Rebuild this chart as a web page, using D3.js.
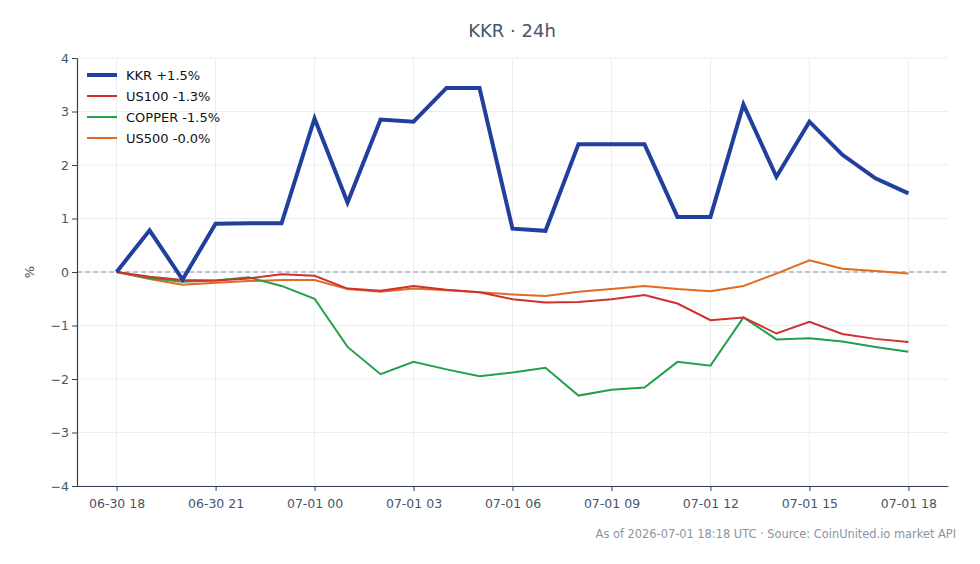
<!DOCTYPE html>
<html>
<head>
<meta charset="utf-8">
<script src="https://cdn.jsdelivr.net/npm/d3@7"></script>
<style>
  body { margin: 0; background: #fff; }
  svg { font-family: "DejaVu Sans", sans-serif; }
</style>
</head>
<body>
<svg width="980" height="564"></svg>
<script>
// hourly points, 06-30 18:00 -> 07-01 18:00
var hours = d3.range(25)
var startTime = new Date(Date.UTC(2026, 5, 30, 18))
var kkr    = [0, 0.78, -0.14, 0.90, 0.91, 0.91, 2.87, 1.30, 2.85, 2.81, 3.44, 3.44, 0.81, 0.77, 2.39, 2.39, 2.39, 1.03, 1.03, 3.13, 1.78, 2.81, 2.19, 1.75, 1.47]
var us100  = [0, -0.09, -0.15, -0.16, -0.12, -0.04, -0.07, -0.31, -0.35, -0.26, -0.33, -0.38, -0.51, -0.57, -0.56, -0.51, -0.43, -0.59, -0.90, -0.85, -1.15, -0.93, -1.16, -1.25, -1.31]
var copper = [0, -0.11, -0.18, -0.16, -0.10, -0.26, -0.50, -1.40, -1.91, -1.68, -1.82, -1.95, -1.88, -1.79, -2.31, -2.20, -2.16, -1.68, -1.75, -0.85, -1.26, -1.24, -1.30, -1.40, -1.49]
var us500  = [0, -0.13, -0.24, -0.20, -0.17, -0.15, -0.15, -0.32, -0.37, -0.31, -0.34, -0.38, -0.42, -0.45, -0.37, -0.32, -0.26, -0.32, -0.36, -0.26, -0.03, 0.22, 0.06, 0.02, -0.03]
var seriesNames = ["KKR +1.5%", "US100 -1.3%", "COPPER -1.5%", "US500 -0.0%"]
var seriesColors = ["#213f9c", "#d03030", "#22a04b", "#e2691f"]
var seriesWidths = [4, 2, 2, 2]
var yTicks = [-4, -3, -2, -1, 0, 1, 2, 3, 4]

var svg = d3.select("svg")
var margin = {left: 77, right: 32, top: 58, bottom: 78}
var W = 980, H = 564

var times = hours.map(h => new Date(startTime.getTime() + h * 3600000))
var pad = 1.2 * 3600000
var x = d3.scaleUtc()
  .domain([times[0].getTime() - pad, times[24].getTime() + pad])
  .range([margin.left, W - margin.right])
var y = d3.scaleLinear().domain([-4, 4]).range([H - margin.bottom, margin.top])

var xTicks = times.filter((t, i) => i % 3 == 0)
var fmt = d3.utcFormat("%m-%d %H")

// grid
svg.append("g").selectAll("line").data(xTicks).enter().append("line")
  .attr("x1", d => x(d)).attr("x2", d => x(d))
  .attr("y1", margin.top).attr("y2", H - margin.bottom)
  .style("stroke", "#e6e9ef").style("stroke-width", 0.8)
svg.append("g").selectAll("line").data(yTicks).enter().append("line")
  .attr("x1", margin.left).attr("x2", W - margin.right)
  .attr("y1", d => y(d)).attr("y2", d => y(d))
  .style("stroke", "#e6e9ef").style("stroke-width", 0.8)

// zero line
svg.append("line")
  .attr("x1", margin.left).attr("x2", W - margin.right)
  .attr("y1", y(0)).attr("y2", y(0))
  .style("stroke", "#7f8ea6").style("stroke-width", 1)
  .style("stroke-dasharray", "5,3")

// axes
var xAxis = svg.append("g")
  .attr("transform", "translate(0," + (H - margin.bottom) + ")")
  .call(d3.axisBottom(x).tickValues(xTicks).tickFormat(fmt).tickSize(5).tickSizeOuter(0))
var yAxis = svg.append("g")
  .attr("transform", "translate(" + margin.left + ",0)")
  .call(d3.axisLeft(y).tickValues(yTicks).tickFormat(d => d < 0 ? "\u2212" + Math.abs(d) : d).tickSize(5).tickSizeOuter(0))
;[xAxis, yAxis].forEach(a => {
  a.select(".domain").style("stroke", "#334155").style("stroke-width", 1.2)
  a.selectAll(".tick line").style("stroke", "#334155")
  a.selectAll("text").style("fill", "#475569").style("font-size", "12.5px").style("font-family", "DejaVu Sans")
})
xAxis.selectAll("text").attr("dy", "1.1em")

svg.append("text")
  .attr("transform", "translate(34," + y(0) + ") rotate(-90)")
  .attr("text-anchor", "middle")
  .style("font-size", "13px").style("fill", "#475569")
  .text("%")

// lines
var allSeries = [kkr, us100, copper, us500]
var line = d3.line().x((d, i) => x(times[i])).y(d => y(d))
// draw thin ones first, KKR on top
;[3, 2, 1, 0].forEach(k => {
  svg.append("path")
    .datum(allSeries[k])
    .attr("d", line)
    .style("fill", "none")
    .style("stroke", seriesColors[k])
    .style("stroke-width", seriesWidths[k])
    .style("stroke-linejoin", "miter")
})

// legend
var legend = svg.selectAll(".legend")
  .data(seriesNames)
  .enter().append("g")
  .attr("class", "legend")
  .attr("transform", (d, i) => "translate(87," + (75 + i * 21) + ")")
legend.append("line")
  .attr("x1", 0).attr("x2", 30)
  .style("stroke", (d, i) => seriesColors[i])
  .style("stroke-width", (d, i) => seriesWidths[i])
legend.append("text")
  .attr("x", 39).attr("y", 5)
  .style("font-size", "13px").style("fill", "#111")
  .text(d => d)

// title + footer
svg.append("text")
  .attr("x", 512).attr("y", 37)
  .attr("text-anchor", "middle")
  .style("font-size", "18px").style("fill", "#475569")
  .text("KKR \u00b7 24h")
svg.append("text")
  .attr("x", 956).attr("y", 538)
  .attr("text-anchor", "end")
  .style("font-size", "11.4px").style("fill", "#8a94a3")
  .text("As of 2026-07-01 18:18 UTC \u00b7 Source: CoinUnited.io market API")
</script>
</body>
</html>
